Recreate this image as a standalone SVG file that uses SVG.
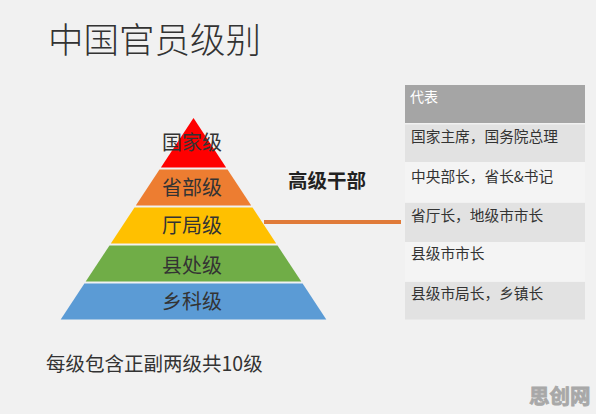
<svg xmlns="http://www.w3.org/2000/svg" width="596" height="414" viewBox="0 0 596 414">
<style>
  text { font-family: "Noto Sans CJK SC", "Noto Sans", sans-serif; }
  .lvl { font-size: 20px; fill: #333333; text-anchor: middle; }
  .cell { font-size: 14.7px; fill: #333333; }
  .rowA { fill: #E2E2E2; }
  .rowB { fill: #F4F4F4; }
</style>
<rect x="0" y="0" width="596" height="414" fill="#F1F1F1"/>
<text x="48" y="53" font-size="35.5" fill="#333333" font-weight="300">中国官员级别</text>

<g id="pyramid">
  <g id="level-guojia">
    <polygon points="193.5,118 226.1,167.5 160.9,167.5" fill="#FF0000"/>
    <text class="lvl" x="192" y="150">国家级</text>
  </g>
  <g id="level-shengbu">
    <polygon points="159.5,169.5 227.5,169.5 251.2,205.5 135.8,205.5" fill="#ED7D31"/>
    <text class="lvl" x="192" y="195">省部级</text>
  </g>
  <g id="level-tingju">
    <polygon points="134.5,207.5 252.5,207.5 276.2,243.5 110.8,243.5" fill="#FFC000"/>
    <text class="lvl" x="192" y="232.5">厅局级</text>
  </g>
  <g id="level-xianchu">
    <polygon points="109.5,245.5 277.5,245.5 301.3,281.5 85.7,281.5" fill="#70AD47"/>
    <text class="lvl" x="192" y="272.5">县处级</text>
  </g>
  <g id="level-xiangke">
    <polygon points="84.4,283.5 302.6,283.5 326.3,319.5 60.7,319.5" fill="#5B9BD5"/>
    <text class="lvl" x="192" y="309">乡科级</text>
  </g>
</g>

<g id="label-gaoji">
  <text x="288" y="188" font-size="19.5" font-weight="bold" fill="#222222">高级干部</text>
</g>

<g id="connectors">
  <line x1="264" y1="222" x2="401" y2="222" stroke="#E07B39" stroke-width="4"/>
</g>

<g id="table">
  <rect x="405" y="85" width="180" height="38" fill="#A5A5A5"/>
  <text x="410" y="102" font-size="14" fill="#FFFFFF">代表</text>
  <rect class="rowA" x="405" y="124.5" width="180" height="37.5"/>
  <rect class="rowB" x="405" y="162" width="180" height="40"/>
  <rect class="rowA" x="405" y="203" width="180" height="39"/>
  <rect class="rowB" x="405" y="242" width="180" height="39.5"/>
  <rect class="rowA" x="405" y="282" width="180" height="37.5"/>
  <text class="cell" x="411" y="142">国家主席，国务院总理</text>
  <text class="cell" x="411" y="182">中央部长，省长&amp;书记</text>
  <text class="cell" x="411" y="220.5">省厅长，地级市市长</text>
  <text class="cell" x="411" y="259">县级市市长</text>
  <text class="cell" x="411" y="299">县级市局长，乡镇长</text>
</g>

<text x="46" y="371" font-size="19.5" fill="#333333">每级包含正副两级共10级</text>
<text x="529" y="404" font-size="20.5" font-weight="bold" fill="#A8A8A8" stroke="#A8A8A8" stroke-width="0.8">思创网</text>
</svg>
